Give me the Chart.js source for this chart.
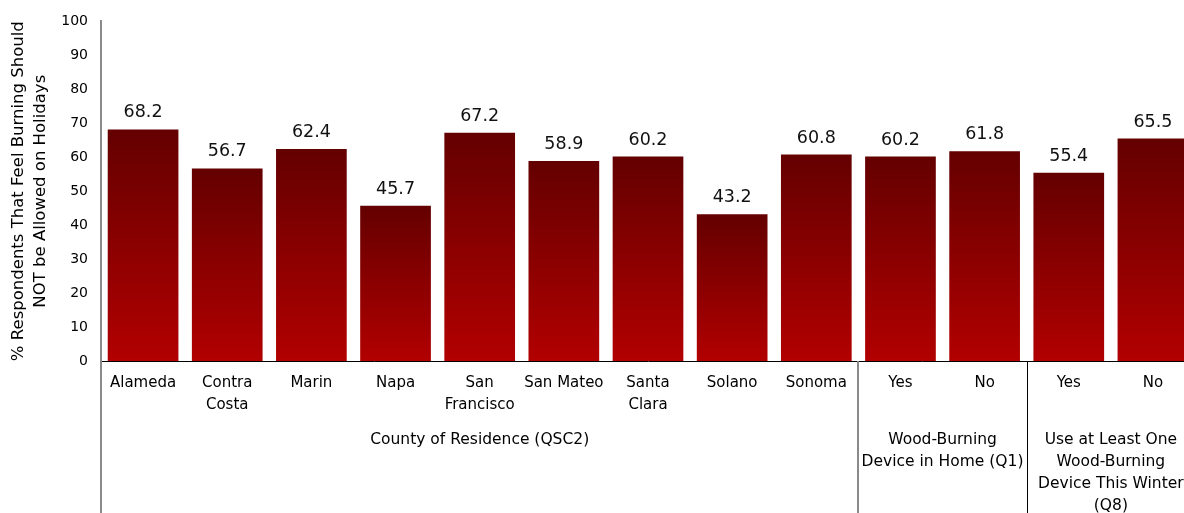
<!DOCTYPE html>
<html>
<head>
<meta charset="utf-8">
<script src="https://cdn.jsdelivr.net/npm/chart.js@4"></script>
<style>
  html, body { margin: 0; padding: 0; background: #fff; overflow: hidden; }
  #wrap { width: 1196px; height: 513px; position: relative; }
</style>
</head>
<body>
<div id="wrap"><canvas id="dataChart"></canvas></div>
<script>
// Categories (multi-line where the chart wraps them)
const categories = [
  "Alameda", ["Contra", "Costa"], "Marin", "Napa", ["San", "Francisco"],
  "San Mateo", ["Santa", "Clara"], "Solano", "Sonoma",
  "Yes", "No",
  "Yes", "No",
];

// % respondents that feel burning should NOT be allowed on holidays
const values = [68.2, 56.7, 62.4, 45.7, 67.2, 58.9, 60.2, 43.2, 60.8, 60.2, 61.8, 55.4, 65.5];

// Group labels under the categories: [first index, last index, text lines]
const groupStarts = [0, 9, 11];
const groupEnds = [8, 10, 12];
const groupLabels = [
  ["County of Residence (QSC2)"],
  ["Wood-Burning", "Device in Home (Q1)"],
  ["Use at Least One", "Wood-Burning", "Device This Winter", "(Q8)"],
];

const yTitle = ["% Respondents That Feel Burning Should", "NOT be Allowed on Holidays"];

const FONT = "'DejaVu Sans', Verdana, sans-serif";

// per-bar vertical gradient, dark at the top of each bar
function barGradient(context) {
  const chart = context.chart;
  if (!chart.chartArea || context.dataIndex === undefined) return "#8b0000";
  const y = chart.scales.y;
  const top = y.getPixelForValue(context.raw);
  const bottom = y.getPixelForValue(0);
  const g = chart.ctx.createLinearGradient(0, top, 0, bottom);
  g.addColorStop(0, "#640000");
  g.addColorStop(1, "#b20000");
  return g;
}

// value labels + group labels and separator lines under the axis
const extrasPlugin = {
  id: "extras",
  afterDatasetsDraw(chart) {
    const ctx = chart.ctx;
    const meta = chart.getDatasetMeta(0);
    ctx.save();
    ctx.font = "17.5px " + FONT;
    ctx.fillStyle = "#111";
    ctx.textAlign = "center";
    ctx.textBaseline = "alphabetic";
    meta.data.forEach((bar, i) => {
      ctx.fillText(values[i].toFixed(1), bar.x, bar.y - 12);
    });
    ctx.restore();
  },
  afterDraw(chart) {
    const ctx = chart.ctx;
    const x = chart.scales.x;
    const area = chart.chartArea;
    const H = chart.height;
    ctx.save();

    // y axis continues down through the label area
    ctx.strokeStyle = "#8a8a8a";
    ctx.lineWidth = 2;
    ctx.beginPath();
    ctx.moveTo(area.left, area.bottom);
    ctx.lineTo(area.left, H);
    ctx.stroke();

    // separators between groups
    const half = (x.getPixelForValue(1) - x.getPixelForValue(0)) / 2;
    groupStarts.forEach((s, gi) => {
      if (gi === 0) return;
      const px = Math.round(x.getPixelForValue(s) - half);
      ctx.strokeStyle = gi === 1 ? "#8a8a8a" : "#000";
      ctx.lineWidth = gi === 1 ? 2 : 1;
      ctx.beginPath();
      ctx.moveTo(px + (gi === 1 ? 0 : 0.5), area.bottom);
      ctx.lineTo(px + (gi === 1 ? 0 : 0.5), H);
      ctx.stroke();
    });

    // group labels
    ctx.font = "15.5px " + FONT;
    ctx.fillStyle = "#000";
    ctx.textAlign = "center";
    ctx.textBaseline = "middle";
    groupLabels.forEach((lines, gi) => {
      const cx = (x.getPixelForValue(groupStarts[gi]) + x.getPixelForValue(groupEnds[gi])) / 2;
      lines.forEach((t, li) => {
        ctx.fillText(t, cx, 440 + li * 22);
      });
    });
    ctx.restore();
  },
};

let dataChart;

function initializeChart() {
  const ctx = document.getElementById("dataChart").getContext("2d");
  dataChart = new Chart(ctx, {
    type: "bar",
    data: {
      labels: categories,
      datasets: [
        {
          data: values,
          backgroundColor: barGradient,
          borderWidth: 0,
          barPercentage: 0.84,
          categoryPercentage: 1.0,
        },
      ],
    },
    options: {
      responsive: true,
      maintainAspectRatio: false,
      animation: false,
      layout: { padding: { top: 20, right: 1, bottom: 0, left: 0 } },
      plugins: {
        legend: { display: false },
        tooltip: { enabled: false },
      },
      scales: {
        x: {
          grid: { display: false, drawTicks: false },
          border: { display: true, color: "#000", width: 1 },
          ticks: {
            color: "#000",
            font: { family: FONT, size: 15, lineHeight: 22 / 15 },
            padding: 11,
            autoSkip: false,
            maxRotation: 0,
          },
          afterFit(scale) {
            scale.height = 152;
          },
        },
        y: {
          min: 0,
          max: 100,
          grid: { display: false, drawTicks: false },
          border: { display: true, color: "#8a8a8a", width: 2 },
          ticks: {
            stepSize: 10,
            color: "#000",
            font: { family: FONT, size: 14 },
            padding: 13,
          },
          title: {
            display: true,
            text: yTitle,
            color: "#000",
            font: { family: FONT, size: 16.5, lineHeight: 22 / 16.5 },
            padding: { top: 8, bottom: 0 },
          },
          afterFit(scale) {
            scale.width = 101;
          },
        },
      },
    },
    plugins: [extrasPlugin],
  });
}

window.onload = function () {
  initializeChart();
};
</script>
</body>
</html>
